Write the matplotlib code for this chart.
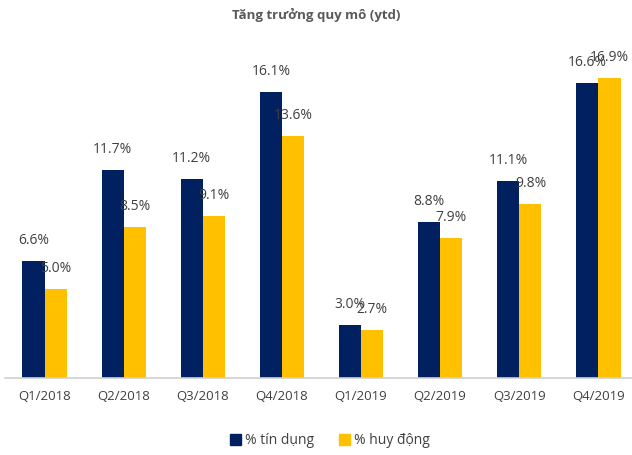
import matplotlib
matplotlib.use("Agg")
import matplotlib.pyplot as plt
import numpy as np
from matplotlib.patches import Patch

categories = ["Q1/2018", "Q2/2018", "Q3/2018", "Q4/2018", "Q1/2019", "Q2/2019", "Q3/2019", "Q4/2019"]
tin_dung = [6.6, 11.7, 11.2, 16.1, 3.0, 8.8, 11.1, 16.6]
huy_dong = [5.0, 8.5, 9.1, 13.6, 2.7, 7.9, 9.8, 16.9]
series_names = ["% tín dụng", "% huy động"]

navy = "#002060"
yellow = "#FFC000"
txt = "#404040"
plt.rcParams['font.family'] = ['Open Sans', 'DejaVu Sans']

W, H = 632, 455
fig = plt.figure(figsize=(W/100, H/100), dpi=100)
ymax = 18.0
px_per = 17.76
ax = fig.add_axes([5/W, 77/H, 633/W, ymax*px_per/H])
x = np.arange(len(categories))
bw = 0.28
b1 = ax.bar(x - bw/2, tin_dung, bw, color=navy)
b2 = ax.bar(x + bw/2, huy_dong, bw, color=yellow)
for xi, v in zip(x - bw/2, tin_dung):
    ax.annotate(f"{v:.1f}%", (xi, v), xytext=(0, 13), textcoords="offset pixels",
                ha="center", va="bottom", fontsize=10, color=txt)
for xi, v in zip(x + bw/2, huy_dong):
    ax.annotate(f"{v:.1f}%", (xi, v), xytext=(0, 13), textcoords="offset pixels",
                ha="center", va="bottom", fontsize=10, color=txt)
ax.set_xlim(-0.5, len(categories) - 0.5)
ax.set_ylim(0, ymax)
ax.set_yticks([])
ax.set_xticks(x)
ax.set_xticklabels(categories, fontsize=9.5, color=txt)
ax.tick_params(axis='x', length=0, pad=9)
for s in ["top", "right", "left"]:
    ax.spines[s].set_visible(False)
ax.spines["bottom"].set_color("#d0d0d0")
ax.spines["bottom"].set_linewidth(1.2)

fig.text(0.5, 1 - 15/H, "Tăng trưởng quy mô (ytd)", ha="center", va="center",
         fontsize=9.5, fontweight="bold", color="#595959")
handles = [Patch(color=navy), Patch(color=yellow)]
fig.legend(handles, series_names, loc="center", bbox_to_anchor=(330/W, 1 - 441/H),
           ncol=2, frameon=False, fontsize=10, handlelength=0.8, handleheight=0.8,
           handletextpad=0.3, columnspacing=1.8, labelcolor=txt)
fig.savefig("out.png", dpi=100)
